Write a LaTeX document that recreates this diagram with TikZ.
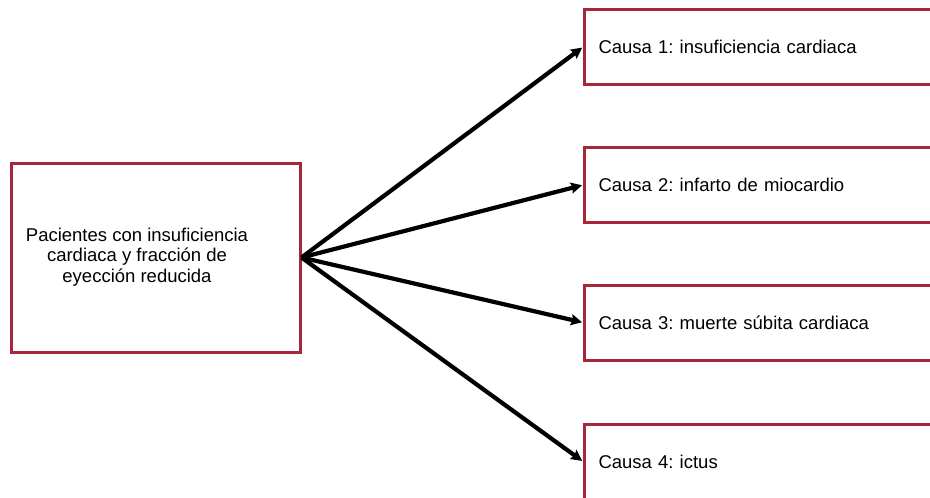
\documentclass[tikz,border=0pt]{standalone}
\usepackage{fontspec}
\setmainfont{Liberation Sans}
\usetikzlibrary{arrows.meta}
\definecolor{boxred}{RGB}{166,38,58}
\frenchspacing
\begin{document}
\begin{tikzpicture}[x=1pt,y=-1pt,
  redbox/.style={draw=boxred,line width=3pt,rectangle,inner sep=0pt},
  causebox/.style={redbox,anchor=west,minimum width=357pt,minimum height=75pt,
    text width=329pt,inner xsep=14pt,align=left,font=\fontsize{18.5}{20.5}\selectfont\frenchspacing},
  conn/.style={line width=4.2pt,shorten >=1pt,-{Stealth[length=11pt,width=11pt,inset=1.5pt]}}]
\clip (0,0) rectangle (930,498);
\fill[white] (0,0) rectangle (930,498);
\node[redbox,minimum width=289pt,minimum height=189pt] (src) at (155.5,257.5) {};
\node[align=center,font=\fontsize{18.5}{20.5}\selectfont\frenchspacing,inner sep=0pt] (srctext) at (137,257)
  {Pacientes con insuficiencia\\cardiaca y fracción de\\eyección reducida};
\node[causebox] (c1) at (583,47) {Causa 1: insuficiencia cardiaca};
\node[causebox] (c2) at (583,185) {Causa 2: infarto de miocardio};
\node[causebox] (c3) at (583,322.5) {Causa 3: muerte súbita cardiaca};
\node[causebox] (c4) at (583,461.5) {Causa 4: ictus};
\foreach \t in {c1,c2,c3,c4}
  \draw[conn] (src.east) -- (\t.west);
\end{tikzpicture}
\end{document}
